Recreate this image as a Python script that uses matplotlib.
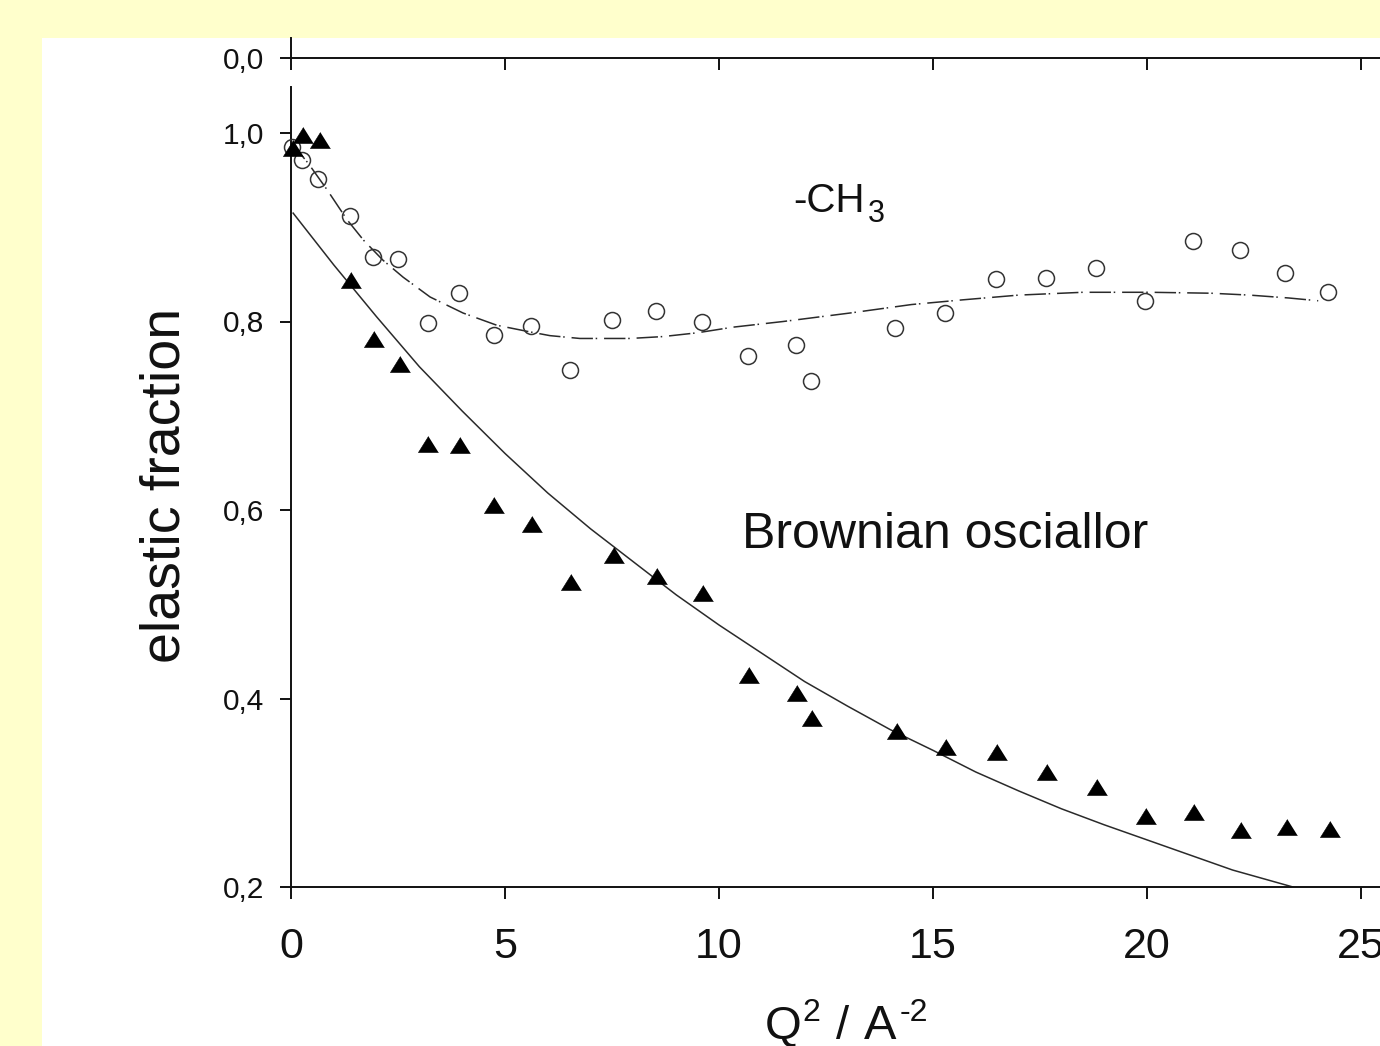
import matplotlib
matplotlib.use("Agg")
import matplotlib.pyplot as plt
from matplotlib.patches import Rectangle

plt.rcParams['font.family'] = ['Liberation Sans', 'DejaVu Sans']

# ---------------- data ----------------
q2_tri = [0.05, 0.28, 0.68, 1.40, 1.94, 2.55, 3.20, 3.95, 4.74, 5.63, 6.54, 7.55, 8.55, 9.63,
          10.70, 11.82, 12.17, 14.16, 15.30, 16.50, 17.66, 18.83, 19.98, 21.10, 22.20, 23.27, 24.28]
ef_tri = [0.984, 0.998, 0.993, 0.844, 0.781, 0.755, 0.670, 0.669, 0.605, 0.585, 0.524, 0.552, 0.530, 0.512,
          0.425, 0.406, 0.379, 0.366, 0.349, 0.343, 0.322, 0.306, 0.275, 0.280, 0.260, 0.264, 0.262]

q2_circ = [0.02, 0.26, 0.63, 1.38, 1.92, 2.50, 3.20, 3.93, 4.74, 5.61, 6.52, 7.50, 8.53, 9.60,
           10.68, 11.80, 12.15, 14.11, 15.28, 16.47, 17.64, 18.81, 19.95, 21.07, 22.17, 23.22, 24.23]
ef_circ = [0.985, 0.971, 0.951, 0.912, 0.868, 0.866, 0.798, 0.830, 0.786, 0.795, 0.749, 0.802, 0.811, 0.800,
           0.763, 0.775, 0.737, 0.793, 0.809, 0.845, 0.846, 0.857, 0.822, 0.885, 0.876, 0.851, 0.831]

# Brownian oscillator fit (solid line)
fit_bo_x = [0.05, 1, 2, 3, 4, 5, 6, 7, 8, 9, 10, 11, 12, 13, 14, 15, 16, 17, 18, 19, 20, 21, 22, 23.41]
fit_bo_y = [0.915, 0.860, 0.805, 0.752, 0.705, 0.660, 0.618, 0.580, 0.545, 0.510, 0.478, 0.448, 0.418,
            0.392, 0.367, 0.345, 0.322, 0.302, 0.283, 0.266, 0.250, 0.234, 0.218, 0.200]

# -CH3 fit (dash-dot line)
fit_ch3_x = [0.0, 0.4, 0.84, 1.31, 1.7, 2.15, 2.62, 3.25, 4.02, 4.81, 5.58, 6.05, 6.75, 7.92, 8.69,
             9.49, 10.33, 11.5, 13.06, 14.5, 15.7, 17.0, 18.5, 20.07, 21.5, 22.4, 23.3, 24.0]
fit_ch3_y = [0.990, 0.968, 0.940, 0.908, 0.886, 0.865, 0.847, 0.826, 0.809, 0.796, 0.789, 0.785, 0.782,
             0.782, 0.784, 0.788, 0.794, 0.800, 0.809, 0.818, 0.823, 0.828, 0.831, 0.831, 0.830, 0.828,
             0.825, 0.822]

yticks = [0.2, 0.4, 0.6, 0.8, 1.0]
ytick_labels = ['0,2', '0,4', '0,6', '0,8', '1,0']
xticks = [0, 5, 10, 15, 20, 25]
xtick_labels = ['0', '5', '10', '15', '20', '25']

# ---------------- figure ----------------
W, H = 1380, 1046
fig = plt.figure(figsize=(W / 100, H / 100), dpi=100, facecolor='#FFFFCC')
bg = Rectangle((42 / W, 0), 1 - 42 / W, 1 - 38 / H, transform=fig.transFigure,
               facecolor='white', edgecolor='none', zorder=-10)
fig.add_artist(bg)

axcol = '#111111'
x0, x1 = 291, 1380
ax = fig.add_axes([x0 / W, 1 - 887 / H, (x1 - x0) / W, (887 - 87) / H])
ax.set_zorder(5)
ax.set_facecolor('none')
xmax = (x1 - x0) / 42.8
ax.set_xlim(0, xmax)
ax.set_ylim(0.2, 0.2 + 800 / 942.5)
for s in ['top', 'right']:
    ax.spines[s].set_visible(False)
for s in ['left', 'bottom']:
    ax.spines[s].set_linewidth(1.4)
    ax.spines[s].set_color(axcol)

ax.set_xticks(xticks)
ax.set_xticklabels(xtick_labels, fontsize=31, color=axcol)
ax.set_yticks(yticks)
ax.set_yticklabels(ytick_labels, fontsize=21.5, color=axcol)
ax.tick_params(axis='x', direction='out', length=8.5, width=1.4, color=axcol, pad=20)
ax.tick_params(axis='y', direction='out', length=8, width=1.4, color=axcol, pad=11)

tri = [(0, 0.8), (-1, -0.8), (1, -0.8)]
ax.plot(fit_bo_x, fit_bo_y, color='#2a2a2a', lw=1.1, zorder=2)
ax.plot(fit_ch3_x, fit_ch3_y, color='#2a2a2a', lw=1.1, dashes=(14, 1.8, 1, 4.5), zorder=2)
ax.plot(q2_tri, ef_tri, linestyle='none', marker=tri, ms=14.5, color='black',
        markeredgewidth=0.4, zorder=4, clip_on=False)
ax.plot(q2_circ, ef_circ, linestyle='none', marker='o', ms=11.5, markerfacecolor='none',
        markeredgecolor='#333333', markeredgewidth=1.1, zorder=3, clip_on=False)

# "-CH3" with a large subscript, as in the reference
ax.text((793 - x0) / 42.8, 0.2 + (887 - 212) / 942.5, '-CH', fontsize=29,
        color=axcol, ha='left', va='baseline')
ax.text((868 - x0) / 42.8, 0.2 + (887 - 222) / 942.5, '3', fontsize=22,
        color=axcol, ha='left', va='baseline')
ax.text((742 - x0) / 42.8, 0.2 + (887 - 548) / 942.5, 'Brownian osciallor', fontsize=36,
        color=axcol, ha='left', va='baseline')

# top broken-axis segment
axt = fig.add_axes([x0 / W, 1 - 58 / H, (x1 - x0) / W, 20 / H])
axt.set_zorder(5)
axt.set_facecolor('none')
axt.set_xlim(0, xmax)
axt.set_ylim(0, 1)
for s in ['top', 'right']:
    axt.spines[s].set_visible(False)
for s in ['left', 'bottom']:
    axt.spines[s].set_linewidth(1.4)
    axt.spines[s].set_color(axcol)
axt.set_xticks(xticks)
axt.set_xticklabels([])
axt.set_yticks([0])
axt.set_yticklabels(['0,0'], fontsize=21.5, color=axcol)
axt.tick_params(axis='x', direction='out', length=8.5, width=1.4, color=axcol)
axt.tick_params(axis='y', direction='out', length=8, width=1.4, color=axcol, pad=11)

# axis labels
fig.text(165 / W, 1 - 485 / H, 'elastic fraction', rotation=90, fontsize=40, color=axcol,
         ha='center', va='center')
fig.text(765 / W, 1 - 1039 / H, 'Q', fontsize=34, color=axcol, ha='left', va='baseline')
fig.text(802 / W, 1 - 1021 / H, '2', fontsize=23, color=axcol, ha='left', va='baseline')
fig.text(836 / W, 1 - 1039 / H, '/', fontsize=34, color=axcol, ha='left', va='baseline')
fig.text(864 / W, 1 - 1039 / H, 'A', fontsize=35, color=axcol, ha='left', va='baseline')
fig.text(900 / W, 1 - 1021 / H, '-2', fontsize=23, color=axcol, ha='left', va='baseline')

fig.savefig('out.png', dpi=100, facecolor=fig.get_facecolor())
